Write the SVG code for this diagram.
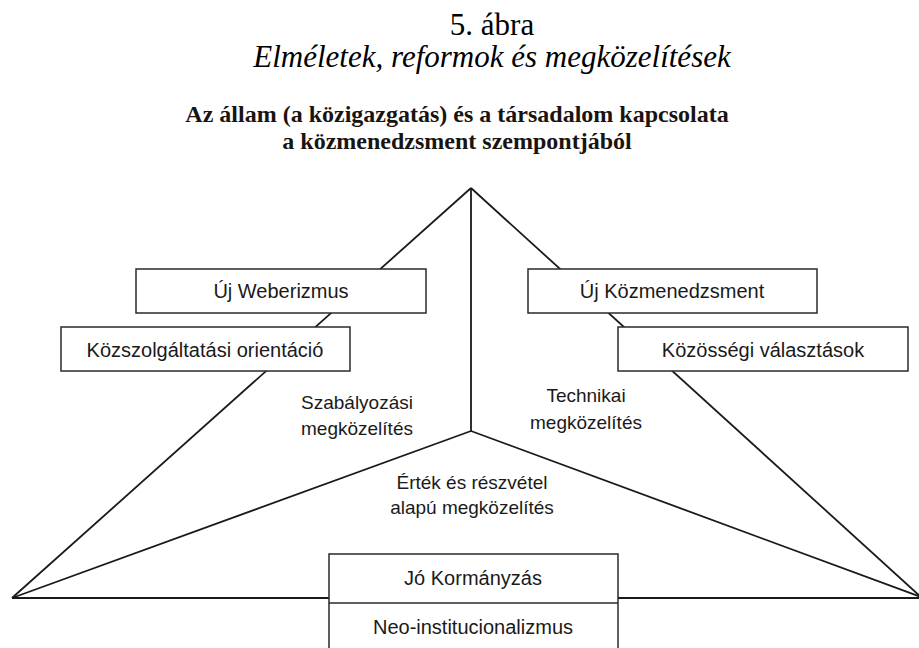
<svg xmlns="http://www.w3.org/2000/svg" width="919" height="648" viewBox="0 0 919 648">
<style>
.title{font-family:"Liberation Serif","Times New Roman",serif;fill:#000;text-anchor:middle}
.head{font-family:"Liberation Serif","Times New Roman",serif;font-weight:bold;font-size:24px;fill:#1a1410;text-anchor:middle}
.lbl{font-family:"Liberation Sans",Arial,sans-serif;font-size:20px;fill:#1a1a1a;text-anchor:middle}
.mid{font-family:"Liberation Sans",Arial,sans-serif;font-size:19px;fill:#1a1a1a;text-anchor:middle}
.box{fill:#fff;stroke:#2a2a2a;stroke-width:1.5}
.ln{stroke:#1a1a1a;stroke-width:1.8;fill:none}
</style>
<rect width="919" height="648" fill="#fff"/>
<g id="title">
<text class="title" x="492" y="35" font-size="31">5. ábra</text>
<text class="title" x="492" y="67" font-size="31" font-style="italic">Elméletek, reformok és megközelítések</text>
<text class="head" x="457" y="122">Az állam (a közigazgatás) és a társadalom kapcsolata</text>
<text class="head" x="457" y="149">a közmenedzsment szempontjából</text>
</g>
<g id="connectors">
<line class="ln" x1="471" y1="188" x2="12" y2="598"/>
<line class="ln" x1="471" y1="188" x2="921" y2="597"/>
<line class="ln" x1="471" y1="188" x2="471" y2="431"/>
<line class="ln" x1="471" y1="431" x2="12" y2="598"/>
<line class="ln" x1="471" y1="431" x2="921" y2="597"/>
<line class="ln" x1="12" y1="598" x2="329" y2="598"/>
<line class="ln" x1="618" y1="598" x2="921" y2="598"/>
</g>
<g id="uj-weberizmus">
<rect class="box" x="136" y="269" width="290" height="44"/>
<text class="lbl" x="281" y="298">Új Weberizmus</text>
</g>
<g id="kozszolgaltatasi-orientacio">
<rect class="box" x="61" y="327" width="289" height="44"/>
<text class="lbl" x="205" y="357">Közszolgáltatási orientáció</text>
</g>
<g id="uj-kozmenedzsment">
<rect class="box" x="528" y="269" width="289" height="44"/>
<text class="lbl" x="672" y="298">Új Közmenedzsment</text>
</g>
<g id="kozossegi-valasztasok">
<rect class="box" x="618" y="327" width="290" height="44"/>
<text class="lbl" x="763" y="357">Közösségi választások</text>
</g>
<g id="szabalyozasi">
<text class="mid" x="357" y="409">Szabályozási</text>
<text class="mid" x="357" y="435">megközelítés</text>
</g>
<g id="technikai">
<text class="mid" x="586" y="402">Technikai</text>
<text class="mid" x="586" y="429">megközelítés</text>
</g>
<g id="ertek">
<text class="mid" x="472" y="489">Érték és részvétel</text>
<text class="mid" x="472" y="514">alapú megközelítés</text>
</g>
<g id="jo-kormanyzas">
<rect class="box" x="329" y="554" width="289" height="110"/>
<line class="box" x1="329" y1="603" x2="618" y2="603"/>
<text class="lbl" x="473" y="585">Jó Kormányzás</text>
<text class="lbl" x="473" y="634">Neo-institucionalizmus</text>
</g>
</svg>
